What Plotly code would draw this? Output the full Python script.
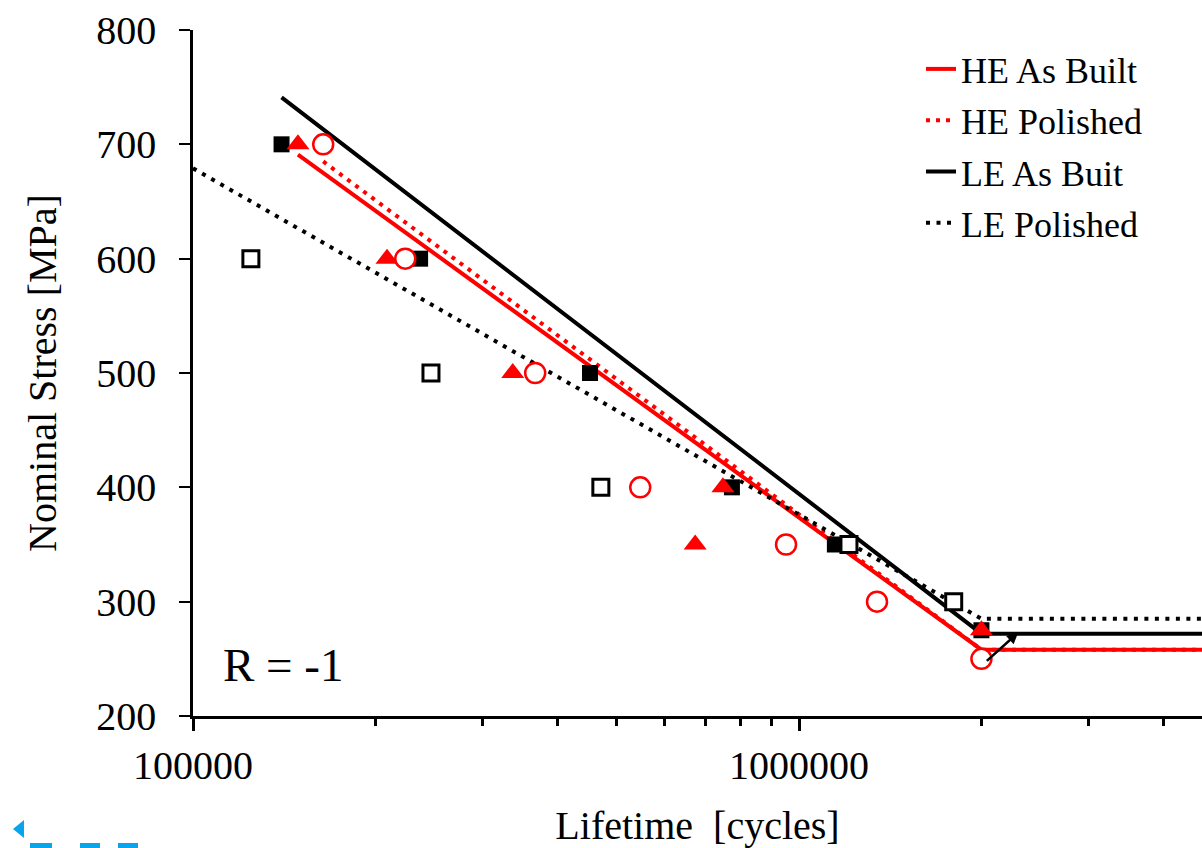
import math
import plotly.graph_objects as go

# ---------------- data ----------------
# Experimental points
he_ab_cycles = [1.49e5, 2.09e5, 3.37e5, 7.49e5, 6.74e5, 2.0e6]
he_ab_stress = [700, 600, 500, 400, 350, 275]

he_pol_cycles = [1.64e5, 2.24e5, 3.67e5, 5.47e5, 9.52e5, 1.345e6, 2.0e6]
he_pol_stress = [700, 600, 500, 400, 350, 300, 250]

le_ab_cycles = [1.40e5, 2.37e5, 4.52e5, 7.75e5, 1.146e6, 2.0e6]
le_ab_stress = [700, 600, 500, 400, 350, 275]

le_pol_cycles = [1.246e5, 2.47e5, 4.71e5, 1.209e6, 1.80e6]
le_pol_stress = [600, 500, 400, 350, 300]

# Fitted S-N curves (sloped part + endurance plateau)
he_ab_fit_cycles = [1.49e5, 2.0e6, 1.0e7]
he_ab_fit_stress = [691, 258, 258]

he_pol_fit_cycles = [1.64e5, 2.0e6, 1.0e7]
he_pol_fit_stress = [685, 258, 258]

le_ab_fit_cycles = [1.40e5, 2.0e6, 1.0e7]
le_ab_fit_stress = [741, 272, 272]

le_pol_fit_cycles = [1.0e5, 2.0e6, 1.0e7]
le_pol_fit_stress = [679, 285, 285]

# Run-out arrow (tail -> head), in data units
runout_tail = [2.03e6, 247]
runout_head = [2.30e6, 273]

# Axis ticks
x_major_ticks = [1e5, 1e6]
x_major_labels = ["100000", "1000000"]
x_minor_ticks = [2e5, 3e5, 4e5, 5e5, 6e5, 7e5, 8e5, 9e5, 2e6, 3e6, 4e6]
y_ticks = [200, 300, 400, 500, 600, 700, 800]

# ---------------- layout helpers ----------------
W, H = 1202, 848
L, R, T, B = 193, 0, 30, 132
PW, PH = W - L - R, H - T - B


def px(xp):
    return (xp - L) / PW


def py(yp):
    return (H - B - yp) / PH


FONT = "Liberation Serif, Times New Roman, serif"
RED = "#ff0000"
BLACK = "#000000"

fig = go.Figure()

# fitted lines (legend entries)
fig.add_trace(go.Scatter(x=he_ab_fit_cycles, y=he_ab_fit_stress, mode="lines",
                         name="HE As Built", legendgroup="a",
                         line=dict(color=RED, width=4)))
fig.add_trace(go.Scatter(x=he_pol_fit_cycles, y=he_pol_fit_stress, mode="lines",
                         name="HE Polished", legendgroup="b",
                         line=dict(color=RED, width=4, dash="4px,6px")))
fig.add_trace(go.Scatter(x=le_ab_fit_cycles, y=le_ab_fit_stress, mode="lines",
                         name="LE As Buit", legendgroup="c",
                         line=dict(color=BLACK, width=4)))
fig.add_trace(go.Scatter(x=le_pol_fit_cycles, y=le_pol_fit_stress, mode="lines",
                         name="LE Polished", legendgroup="d",
                         line=dict(color=BLACK, width=4, dash="4px,6.5px")))

# experimental points
fig.add_trace(go.Scatter(x=le_ab_cycles, y=le_ab_stress, mode="markers",
                         showlegend=False, name="LE As Built data",
                         marker=dict(symbol="square", size=16, color=BLACK)))
fig.add_trace(go.Scatter(x=le_pol_cycles, y=le_pol_stress, mode="markers",
                         showlegend=False, name="LE Polished data",
                         marker=dict(symbol="square", size=16, color="white",
                                     line=dict(color=BLACK, width=3))))
fig.add_trace(go.Scatter(x=he_ab_cycles, y=he_ab_stress, mode="markers",
                         showlegend=False, name="HE As Built data",
                         marker=dict(symbol="triangle-up", size=20, color=RED)))
fig.add_trace(go.Scatter(x=he_pol_cycles, y=he_pol_stress, mode="markers",
                         showlegend=False, name="HE Polished data",
                         marker=dict(symbol="circle", size=20, color="white",
                                     line=dict(color=RED, width=2.5))))

annotations = [
    dict(x=math.log10(runout_head[0]), y=runout_head[1],
         ax=math.log10(runout_tail[0]), ay=runout_tail[1],
         xref="x", yref="y", axref="x", ayref="y", text="",
         showarrow=True, arrowhead=2, arrowsize=0.9, arrowwidth=2.5,
         arrowcolor=BLACK),
    dict(x=px(283), y=py(665), xref="paper", yref="paper", text="R = -1",
         showarrow=False, xanchor="center", yanchor="middle",
         font=dict(family=FONT, size=47, color=BLACK)),
]

# small cropped blue logo fragment at the bottom-left corner of the picture
shapes = [
    dict(type="path", xref="paper", yref="paper",
         path=f"M {px(24)},{py(820)} L {px(13)},{py(829)} L {px(24)},{py(838)} Z",
         fillcolor="#08a4ec", line=dict(width=0), layer="above"),
]
for x0, x1 in [(30, 52), (80, 100), (118, 138)]:
    shapes.append(dict(type="rect", xref="paper", yref="paper",
                       x0=px(x0), x1=px(x1), y0=py(848), y1=py(843),
                       fillcolor="#08a4ec", line=dict(width=0)))

fig.update_layout(
    width=W, height=H,
    margin=dict(l=L, r=R, t=T, b=B, autoexpand=False),
    paper_bgcolor="white", plot_bgcolor="white",
    font=dict(family=FONT, size=40, color=BLACK),
    showlegend=True,
    legend=dict(x=px(921), y=py(39), xanchor="left", yanchor="top",
                bgcolor="rgba(0,0,0,0)", borderwidth=0,
                font=dict(family=FONT, size=36, color=BLACK),
                traceorder="grouped", tracegroupgap=1.5, itemwidth=30),
    annotations=annotations,
    shapes=shapes,
    xaxis=dict(type="log", range=[5, 5 + (W - L) / 606.0],
               showgrid=False, zeroline=False,
               showline=True, linecolor=BLACK, linewidth=2.5,
               tickmode="array", tickvals=x_major_ticks, ticktext=x_major_labels,
               ticks="outside", ticklen=12, tickwidth=2.5, tickcolor=BLACK,
               ticklabelstandoff=0,
               tickfont=dict(family=FONT, size=40, color=BLACK),
               minor=dict(tickmode="array", tickvals=x_minor_ticks,
                          ticks="outside", ticklen=7, tickwidth=2.5,
                          tickcolor=BLACK, showgrid=False),
               title=dict(text="Lifetime  [cycles]", standoff=33,
                          font=dict(family=FONT, size=40, color=BLACK))),
    yaxis=dict(range=[200, 800], showgrid=False, zeroline=False,
               showline=True, linecolor=BLACK, linewidth=2.5,
               tickmode="array", tickvals=y_ticks,
               ticks="outside", ticklen=11, tickwidth=2, tickcolor=BLACK,
               ticklabelstandoff=15,
               tickfont=dict(family=FONT, size=40, color=BLACK),
               title=dict(text="Nominal Stress [MPa]", standoff=28,
                          font=dict(family=FONT, size=40, color=BLACK))),
)

fig.write_html(
    "out.html",
    config={"displayModeBar": False},
    post_script="document.body.style.margin='0';"
                "document.body.style.overflow='hidden';",
)
